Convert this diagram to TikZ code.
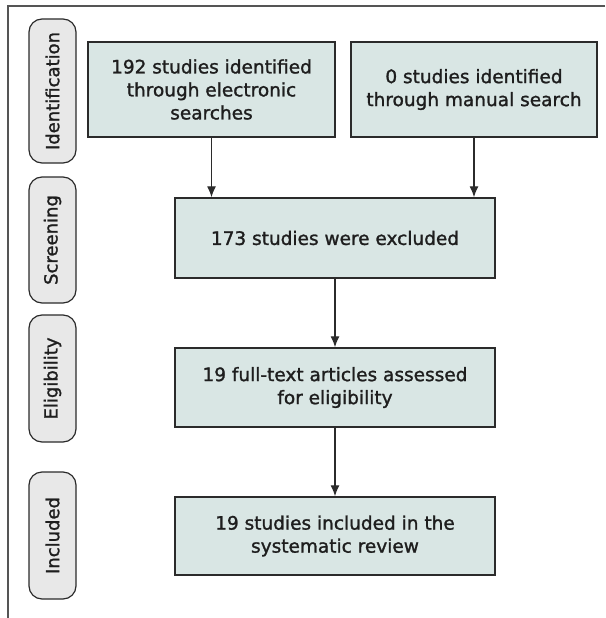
\documentclass[tikz,border=0pt]{standalone}
\usepackage{fontspec}
\setmainfont{DejaVu Sans}[FakeBold=1.4]
\usetikzlibrary{arrows.meta}
\definecolor{boxfill}{HTML}{D9E6E4}
\definecolor{labfill}{HTML}{E8E8E8}
\definecolor{linec}{HTML}{2B2B2B}
\definecolor{framec}{HTML}{555555}
\definecolor{txtc}{HTML}{1E1E1E}
\tikzset{
  stagebox/.style={draw=linec, line width=1.4pt, fill=boxfill, inner sep=0pt, align=center,
    text=txtc, font=\fontsize{18.5}{23}\selectfont},
  phaselabel/.style={draw=linec, line width=1.2pt, fill=labfill, rounded corners=13pt, rotate=90,
    inner sep=0pt, minimum height=47pt, text=txtc, font=\fontsize{18}{22}\selectfont},
  arr/.style={draw=linec, line width=1.3pt, -{Latex[length=11pt,width=9pt]}},
  frameline/.style={draw=framec, line width=2pt}
}
\begin{document}
\begin{tikzpicture}[x=1pt,y=-1pt]
\useasboundingbox (0,0) rectangle (605,618);
% frame
\coordinate (ftr) at (605,6.5);
\coordinate (ftl) at (7.5,6.5);
\coordinate (fbl) at (7.5,618);
\draw[frameline] (ftr) -- (ftl) -- (fbl);
% phase labels
\node[phaselabel, minimum width=144pt] (lid) at (52.5,91) {Identification};
\node[phaselabel, minimum width=126pt] (lsc) at (52.5,240) {Screening};
\node[phaselabel, minimum width=127pt] (lel) at (52.5,378.5) {Eligibility};
\node[phaselabel, minimum width=127pt] (lin) at (52.5,535.5) {Included};
% boxes
\node[stagebox, minimum width=247pt, minimum height=95pt] (b1) at (211.5,89.5)
  {192 studies identified\\through electronic\\searches};
\node[stagebox, minimum width=246pt, minimum height=95pt] (b2) at (474,89.5)
  {0 studies identified\\through manual search};
\node[stagebox, minimum width=320pt, minimum height=80pt] (scr) at (335,238)
  {173 studies were excluded};
\node[stagebox, minimum width=320pt, minimum height=79pt] (eli) at (335,387.5)
  {19 full-text articles assessed\\for eligibility};
\node[stagebox, minimum width=320pt, minimum height=78pt] (inc) at (335,536)
  {19 studies included in the\\systematic review};
% arrows
\draw[arr] (b1.south) -- (b1.south |- scr.north);
\draw[arr] (b2.south) -- (b2.south |- scr.north);
\draw[arr] (scr.south) -- (eli.north);
\draw[arr] (eli.south) -- (inc.north);
\end{tikzpicture}
\end{document}
